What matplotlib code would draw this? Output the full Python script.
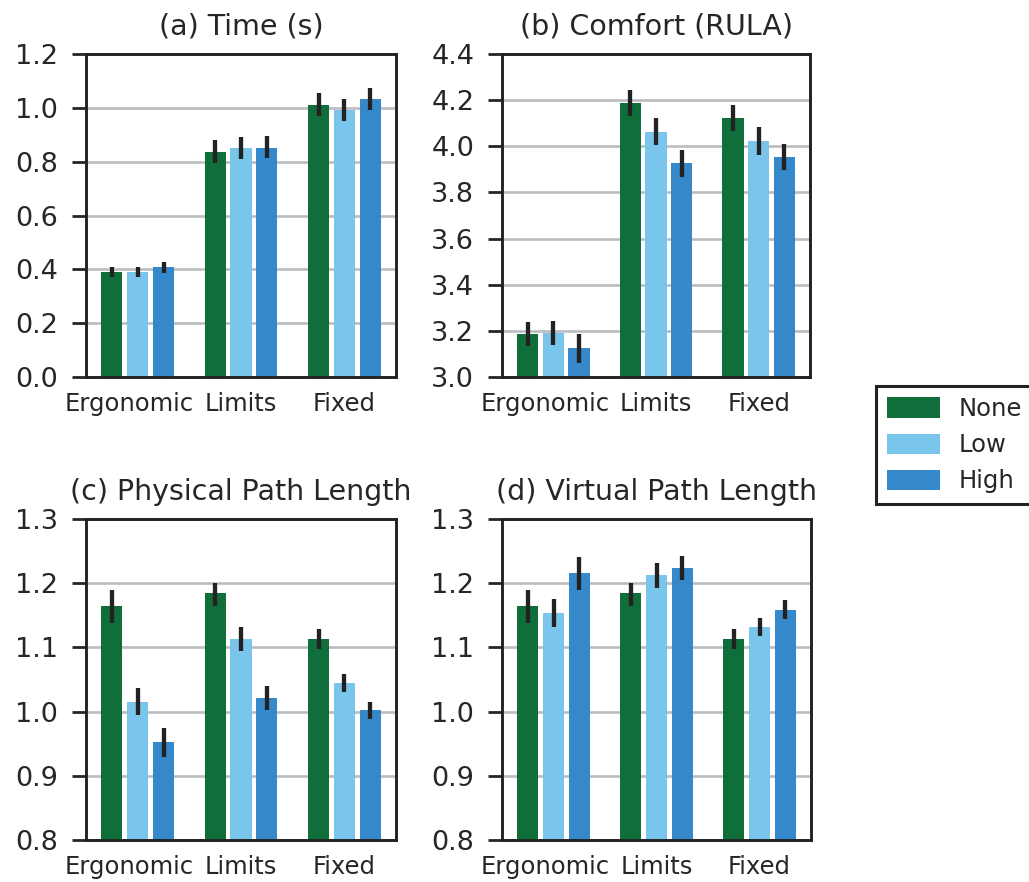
import numpy as np
import matplotlib
matplotlib.use('Agg')
import matplotlib.pyplot as plt
import matplotlib.transforms as mtransforms
from matplotlib.patches import Patch

##################################################
# data
##################################################

groups = ['Ergonomic', 'Limits', 'Fixed']
levels = ['None', 'Low', 'High']
colors = ['#106e3a', '#7ac5ec', '#3589cb']

# rows = levels (None, Low, High), columns = groups
time_mean = [[0.390, 0.835, 1.010], [0.390, 0.851, 0.993], [0.408, 0.851, 1.034]]
time_lo = [[0.372, 0.795, 0.969], [0.372, 0.809, 0.952], [0.388, 0.812, 0.993]]
time_hi = [[0.407, 0.880, 1.055], [0.409, 0.892, 1.032], [0.429, 0.895, 1.073]]

rula_mean = [[3.185, 4.187, 4.124], [3.191, 4.063, 4.024], [3.125, 3.928, 3.954]]
rula_lo = [[3.136, 4.132, 4.068], [3.140, 4.006, 3.963], [3.061, 3.869, 3.898]]
rula_hi = [[3.239, 4.244, 4.179], [3.242, 4.124, 4.083], [3.187, 3.983, 4.012]]

phys_mean = [[1.165, 1.184, 1.113], [1.015, 1.113, 1.045], [0.953, 1.021, 1.003]]
phys_lo = [[1.138, 1.165, 1.098], [0.995, 1.095, 1.031], [0.930, 1.003, 0.989]]
phys_hi = [[1.190, 1.201, 1.128], [1.036, 1.132, 1.059], [0.975, 1.040, 1.015]]

virt_mean = [[1.165, 1.184, 1.113], [1.154, 1.212, 1.132], [1.216, 1.224, 1.159]]
virt_lo = [[1.138, 1.165, 1.098], [1.131, 1.193, 1.117], [1.190, 1.205, 1.145]]
virt_hi = [[1.190, 1.201, 1.128], [1.175, 1.231, 1.146], [1.241, 1.243, 1.174]]

titles = ['(a) Time (s)', '(b) Comfort (RULA)',
          '(c) Physical Path Length', '(d) Virtual Path Length']
yticks_a = [0.0, 0.2, 0.4, 0.6, 0.8, 1.0, 1.2]
yticks_b = [3.0, 3.2, 3.4, 3.6, 3.8, 4.0, 4.2, 4.4]
yticks_cd = [0.8, 0.9, 1.0, 1.1, 1.2, 1.3]

##################################################
# plot
##################################################

plt.rcParams['font.family'] = ['DejaVu Sans']
txt = '#262626'
plt.rcParams['text.color'] = txt

W, H = 1029, 882
fig = plt.figure(figsize=(W / 100, H / 100), dpi=100)

# axes boxes in pixels: left, top, right, bottom
boxes = [(86, 54, 396, 377), (502, 54, 810, 377),
         (86, 519, 396, 840), (502, 519, 811, 840)]

panels = [(time_mean, time_lo, time_hi, yticks_a),
          (rula_mean, rula_lo, rula_hi, yticks_b),
          (phys_mean, phys_lo, phys_hi, yticks_cd),
          (virt_mean, virt_lo, virt_hi, yticks_cd)]

x = np.arange(len(groups))
offs = [-0.25, 0.0, 0.25]

for (l, t, r, b), (mean, lo, hi, yt), title in zip(boxes, panels, titles):
    ax = fig.add_axes([l / W, 1 - b / H, (r - l) / W, (b - t) / H])
    for i, lev in enumerate(levels):
        m = np.array(mean[i])
        err = np.vstack([m - np.array(lo[i]), np.array(hi[i]) - m])
        ax.bar(x + offs[i], m, width=0.205, color=colors[i], zorder=2)
        ax.errorbar(x + offs[i], m, yerr=err, fmt='none', ecolor='#222222',
                    elinewidth=3.1, capsize=0, zorder=3)
    ax.set_xlim(-0.5, 2.5)
    ax.set_ylim(yt[0], yt[-1])
    ax.set_yticks(yt)
    ax.set_yticklabels([f'{v:.1f}' for v in yt])
    ax.set_xticks(x)
    ax.set_xticklabels(groups)
    ax.yaxis.grid(True, color='#bcbdc0', linewidth=1.9, zorder=0)
    ax.set_axisbelow(True)
    ax.tick_params(axis='y', length=10, width=2, color=txt, labelsize=19.5,
                   pad=10, labelcolor=txt)
    ax.tick_params(axis='x', length=0, labelsize=17.5, pad=11, labelcolor=txt)
    # first group label sits a little to the left in the reference
    shift = mtransforms.ScaledTranslation(-8 / 100, 0, fig.dpi_scale_trans)
    lab0 = ax.get_xticklabels()[0]
    lab0.set_transform(lab0.get_transform() + shift)
    for s in ax.spines.values():
        s.set_linewidth(2.1)
        s.set_color('#222222')
    ax.set_title(title, fontsize=20.5, pad=14, color=txt)

handles = [Patch(facecolor=c, label=lv) for c, lv in zip(colors, levels)]
leg = fig.legend(handles=handles, loc='upper left',
                 bbox_to_anchor=(876 / W, 1 - 386 / H), borderaxespad=0,
                 fontsize=17.5, frameon=True, fancybox=False, framealpha=1,
                 handlelength=2.2, handleheight=0.9, handletextpad=0.75,
                 labelspacing=0.5, borderpad=0.45)
leg.get_frame().set_edgecolor('#222222')
leg.get_frame().set_linewidth(2.2)

fig.savefig('out.png', dpi=100)
